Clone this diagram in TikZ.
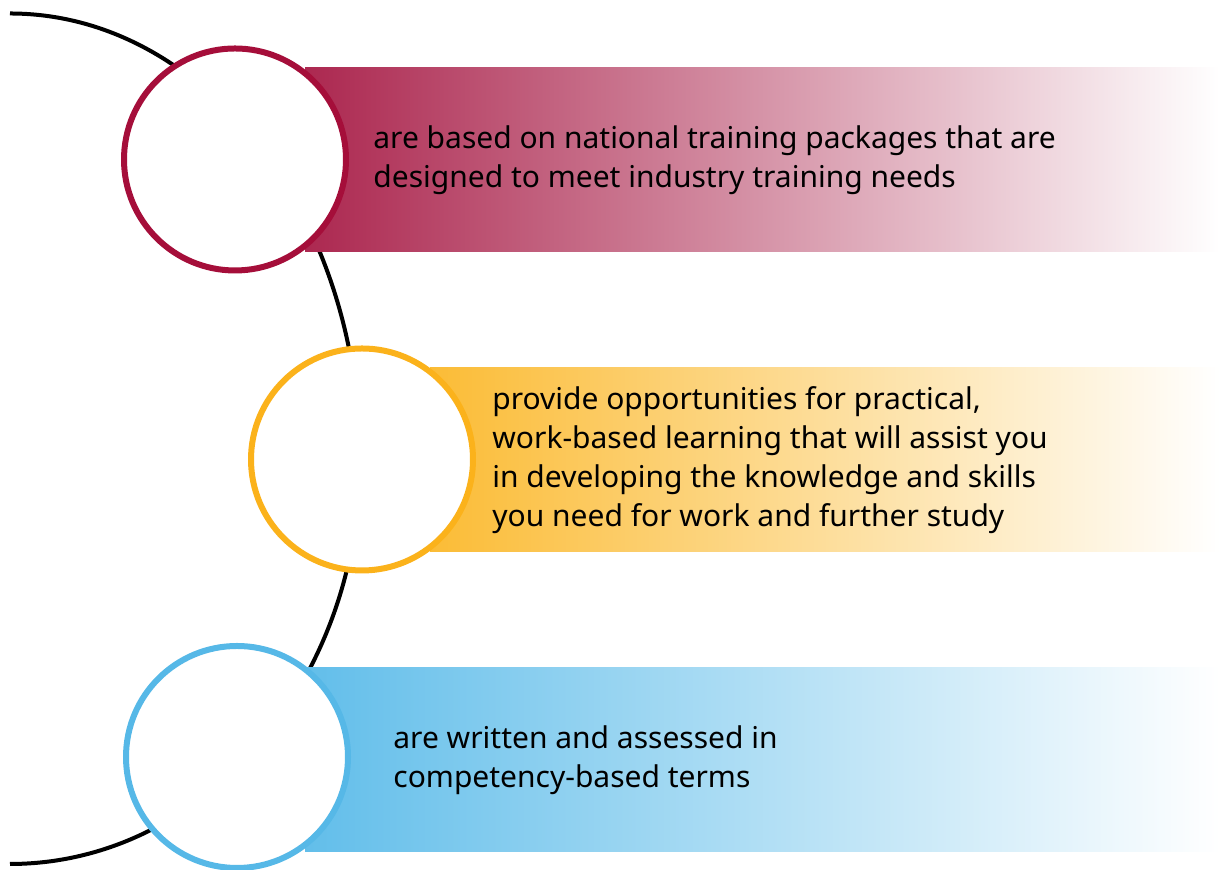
\documentclass[tikz,border=0pt]{standalone}
\usepackage{fontspec}
\setmainfont{Noto Sans}
\usepackage{tikz}
\definecolor{ringred}{HTML}{A50E3A}
\definecolor{bandred}{HTML}{AC2850}
\definecolor{ringorange}{HTML}{FBB21B}
\definecolor{bandorange}{HTML}{FBBC36}
\definecolor{ringblue}{HTML}{56B8E7}
\definecolor{bandblue}{HTML}{62BEEA}

\begin{document}
\begin{tikzpicture}[x=0.5pt,y=0.5pt,
  ring/.style={circle,draw=#1,line width=3pt,fill=white,minimum size=111pt,inner sep=0pt},
  blurb/.style={anchor=west,align=left,inner sep=0pt,font=\fontsize{15}{19.5}\selectfont}]
  \useasboundingbox (0,0) rectangle (1223,870);

  % the big arc behind everything
  \draw[line width=2pt] (10,856.5) arc[start angle=90,end angle=0,x radius=350,y radius=446.5]
    arc[start angle=0,end angle=-90,x radius=350,y radius=404];

  % bands fading out to the right
  \shade[left color=bandred,right color=white] (305,618) rectangle (1220,802);
  \shade[left color=bandorange,right color=white] (430,318) rectangle (1220,502);
  \shade[left color=bandblue,right color=white] (305,18) rectangle (1220,202);

  % rings
  \node[ring=ringred] (r1) at (235,710.5) {};
  \node[ring=ringorange] (r2) at (362,410.5) {};
  \node[ring=ringblue] (r3) at (237,113) {};

  % texts
  \node[blurb] (t1) at (373,710) {are based on national training packages that are\\designed to meet industry training needs};
  \node[blurb] (t2) at (492,410) {provide opportunities for practical,\\work-based learning that will assist you\\in developing the knowledge and skills\\you need for work and further study};
  \node[blurb] (t3) at (393,110) {are written and assessed in\\competency-based terms};
\end{tikzpicture}
\end{document}
